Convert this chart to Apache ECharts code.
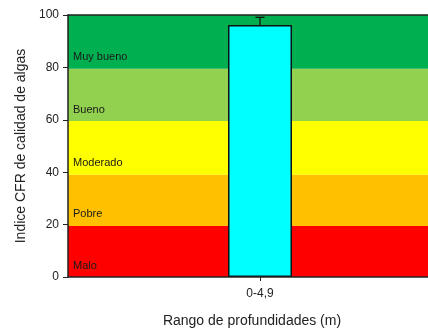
<!DOCTYPE html>
<html>
<head>
<meta charset="utf-8">
<script src="https://cdn.jsdelivr.net/npm/echarts@6/dist/echarts.min.js"></script>
<style>
  html, body { margin: 0; padding: 0; background: #fff; overflow: hidden; }
  /* the plot is cut at the right edge in the original, so the chart is wider than the window */
  #chart { width: 452px; height: 333px; }
</style>
</head>
<body>
<div id="chart"></div>
<script>
// datos
var categories = ["0-4,9"];
var values = [96.2];
var errors = [2.9];
var yTicks = [0, 20, 40, 60, 80, 100];
var bandNames = ["Malo", "Pobre", "Moderado", "Bueno", "Muy bueno"];
var bandLimits = [0, 19.5, 39, 59.5, 79.5, 100];
var bandColors = ["#ff0000", "#ffc000", "#ffff00", "#92d050", "#00b050"];

var font = "Liberation Sans, Arial, sans-serif";
var chart = echarts.init(document.getElementById("chart"));

// bandas de calidad
var bands = bandNames.map(function (n, i) {
  return [
    { name: n, yAxis: bandLimits[i], itemStyle: { color: bandColors[i] } },
    { yAxis: bandLimits[i + 1] }
  ];
});

chart.setOption({
  animation: false,
  grid: { left: 68, top: 15, bottom: 54.5, right: 0 },
  xAxis: [{
    type: "category",
    data: categories,
    name: "Rango de profundidades (m)",
    nameLocation: "middle",
    nameGap: 37,
    nameTextStyle: { fontFamily: font, fontSize: 14, color: "#222", padding: [0, 16, 0, 0] },
    axisLine: { lineStyle: { color: "#222", width: 1.5 } },
    axisTick: { show: true, alignWithLabel: true, length: 4, lineStyle: { color: "#222" } },
    axisLabel: { fontFamily: font, fontSize: 12, color: "#222", margin: 11 },
    z: 10
  }, {
    type: "category",
    position: "top",
    data: categories,
    axisLine: { lineStyle: { color: "#222", width: 1.5 } },
    axisTick: { show: false },
    axisLabel: { show: false },
    z: 10
  }],
  yAxis: {
    type: "value",
    min: 0,
    max: 100,
    interval: 20,
    name: "Indice CFR de calidad de algas",
    nameLocation: "middle",
    nameGap: 40,
    nameTextStyle: { fontFamily: font, fontSize: 14, color: "#222" },
    axisLine: { show: true, lineStyle: { color: "#222", width: 1.5 } },
    axisTick: { show: true, length: 5, lineStyle: { color: "#222" } },
    axisLabel: {
      fontFamily: font, fontSize: 12, color: "#222", margin: 9,
      formatter: function (v) { return yTicks.indexOf(v) >= 0 ? v : ""; }
    },
    splitLine: { show: false },
    z: 10
  },
  series: [
    {
      type: "bar",
      data: values,
      barWidth: 64,
      itemStyle: { color: "#00ffff", borderColor: "#111", borderWidth: 1.5 },
      z: 5,
      markArea: {
        silent: true,
        z: 1,
        label: {
          show: true,
          position: "insideBottomLeft",
          distance: 5,
          offset: [0, -1],
          fontFamily: font,
          fontSize: 11,
          color: "#1a1a1a"
        },
        data: bands
      }
    },
    {
      type: "custom",
      z: 6,
      data: values.map(function (v, i) { return [i, v, errors[i]]; }),
      renderItem: function (params, api) {
        var x = api.value(0);
        var top = api.coord([x, api.value(1) + api.value(2)]);
        var base = api.coord([x, api.value(1)]);
        var style = { stroke: "#111", lineWidth: 1.3 };
        return {
          type: "group",
          children: [
            { type: "line", shape: { x1: top[0], y1: top[1], x2: base[0], y2: base[1] }, style: style },
            { type: "line", shape: { x1: top[0] - 4.5, y1: top[1], x2: top[0] + 4.5, y2: top[1] }, style: style }
          ]
        };
      }
    }
  ]
});
</script>
</body>
</html>
